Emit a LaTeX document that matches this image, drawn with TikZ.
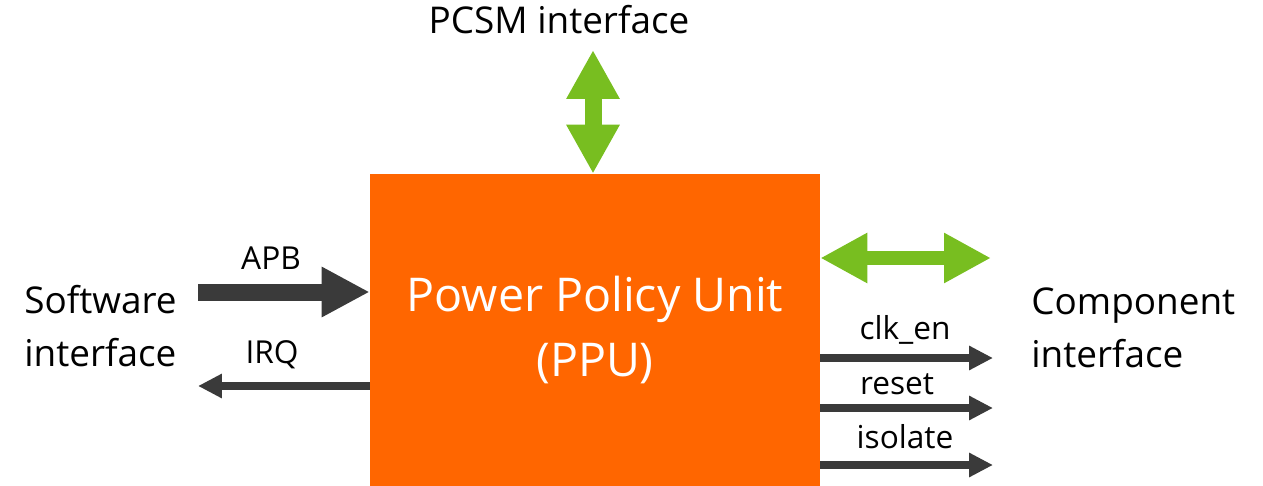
\documentclass[tikz,border=0pt]{standalone}
\usepackage{fontspec}
\setmainfont{Open Sans}
\usetikzlibrary{arrows.meta,positioning}
\definecolor{ppuorange}{HTML}{FF6600}
\definecolor{ifgreen}{HTML}{78BE20}
\definecolor{sigdark}{HTML}{3A3A3A}
\tikzset{
  ppu_box/.style={fill=ppuorange,draw=none,minimum width=9cm,minimum height=6.24cm,
    inner sep=0pt,align=center,font=\fontsize{26.5}{37}\selectfont\color{white}},
  if_label/.style={font=\fontsize{21}{30}\selectfont,align=left,inner sep=0pt},
  sig_label/.style={font=\fontsize{18}{20}\selectfont,inner sep=0pt},
  bus_arr/.style={draw=sigdark,line width=0.34cm,-{Triangle[length=0.96cm,width=0.94cm]}},
  sig_arr/.style={draw=sigdark,line width=0.15cm,-{Triangle[length=0.48cm,width=0.46cm]}},
  pcsm_arr/.style={draw=ifgreen,line width=0.34cm,
    {Triangle[length=0.98cm,width=1cm]}-{Triangle[length=0.98cm,width=1cm]}},
  comp_arr/.style={draw=ifgreen,line width=0.27cm,
    {Triangle[length=0.94cm,width=0.94cm]}-{Triangle[length=0.94cm,width=0.94cm]}},
}
\begin{document}
\begin{tikzpicture}[x=0.02cm,y=-0.02cm]
  \useasboundingbox (0,0) rectangle (1263,486);

  \node[ppu_box] (ppu) at (595,330) {Power Policy Unit\\(PPU)};

  \node[if_label] (pcsm) at (559,20) {PCSM interface};
  \node[if_label,anchor=west] (sw) at (24,326) {Software\\interface};
  \node[if_label,anchor=west] (comp) at (1031,328) {Component\\interface};

  % free ends of the connectors
  \coordinate (pcsmend) at (593,50);
  \coordinate (compend) at (991,258);
  \coordinate (apbin) at (198,292);
  \coordinate (irqout) at (198,386);
  \coordinate (clkout) at (993,358);
  \coordinate (rstout) at (993,408);
  \coordinate (isoout) at (993,465);

  \draw[pcsm_arr] (pcsmend) -- (pcsmend |- ppu.north);
  \draw[comp_arr] (ppu.east |- compend) -- (compend);
  \draw[bus_arr] (apbin) -- (ppu.west |- apbin);
  \draw[sig_arr] (ppu.west |- irqout) -- (irqout);
  \draw[sig_arr] (ppu.east |- clkout) -- (clkout);
  \draw[sig_arr] (ppu.east |- rstout) -- (rstout);
  \draw[sig_arr] (ppu.east |- isoout) -- (isoout);

  \node[sig_label] (apb) at (271,258) {APB};
  \node[sig_label] (irq) at (272,355) {IRQ};
  \node[sig_label] (clk) at (905,330) {clk\_en};
  \node[sig_label] (rst) at (897,384) {reset};
  \node[sig_label] (iso) at (905,437) {isolate};
\end{tikzpicture}
\end{document}
